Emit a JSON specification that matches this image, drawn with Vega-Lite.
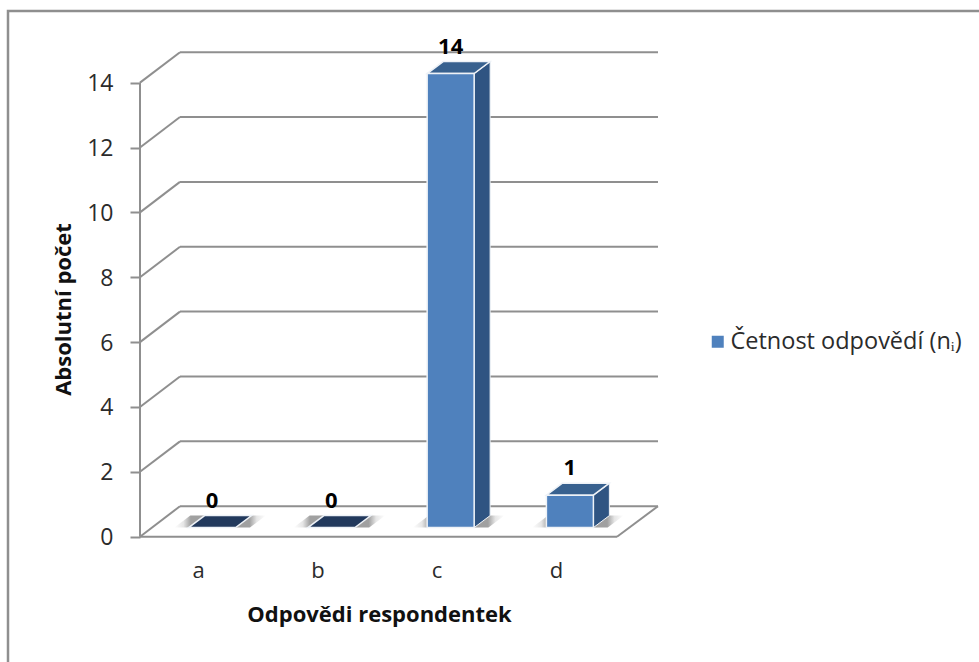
{
  "$schema": "https://vega.github.io/schema/vega-lite/v6.json",
  "width": 973,
  "height": 653,
  "autosize": {"type": "none"},
  "padding": {"left": 8, "top": 11, "right": 0, "bottom": 0},
  "background": "white",
  "view": {"stroke": "#8f8f8f", "strokeWidth": 2.5},
  "config": {"font": "Open Sans"},
  "datasets": {
    "odpovedi": [
      {"odpoved": "a", "poradi": 1, "pocet": 0},
      {"odpoved": "b", "poradi": 2, "pocet": 0},
      {"odpoved": "c", "poradi": 3, "pocet": 14},
      {"odpoved": "d", "poradi": 4, "pocet": 1}
    ],
    "mrizka": [
      {"hodnota": 0}, {"hodnota": 2}, {"hodnota": 4}, {"hodnota": 6},
      {"hodnota": 8}, {"hodnota": 10}, {"hodnota": 12}, {"hodnota": 14}
    ]
  },
  "encoding": {
    "x": {
      "field": "x", "type": "quantitative", "stack": null,
      "scale": {"domain": [-1.1069, 7.0524], "nice": false, "zero": false},
      "axis": {
        "orient": "bottom", "offset": -127,
        "values": [0.5, 1.5, 2.5, 3.5],
        "labelExpr": "['a','b','c','d'][datum.value - 0.5]",
        "domain": false, "grid": false, "ticks": false,
        "labelFont": "Open Sans", "labelFontSize": 22, "labelColor": "#2b2b2b", "labelPadding": 23, "labelOffset": -1.5,
        "title": "Odpovědi respondentek",
        "titleFont": "Open Sans", "titleFontSize": 22, "titleFontWeight": "bold", "titleColor": "#111111",
        "titleX": 371, "titleY": 77, "titleBaseline": "middle", "titleAlign": "center"
      }
    },
    "y": {
      "field": "y", "type": "quantitative", "stack": null,
      "scale": {"domain": [-3.926, 16.21], "nice": false, "zero": false},
      "axis": {
        "orient": "left", "offset": -132,
        "values": [0, 2, 4, 6, 8, 10, 12, 14],
        "domain": false, "grid": false,
        "tickColor": "#8f8f8f", "tickWidth": 2, "tickSize": 10,
        "labelFont": "Open Sans", "labelFontSize": 23, "labelColor": "#2b2b2b", "labelPadding": 17, "labelOffset": 1,
        "title": "Absolutní počet",
        "titleFont": "Open Sans", "titleFontSize": 22, "titleFontWeight": "bold", "titleColor": "#111111",
        "titleX": -77, "titleY": 298, "titleBaseline": "middle", "titleAlign": "center", "titleAngle": 270
      }
    }
  },
  "layer": [
    {
      "description": "Back wall gridlines",
      "data": {"name": "mrizka"},
      "transform": [
        {"calculate": "0.3354", "as": "x"},
        {"calculate": "4.3438", "as": "x2"},
        {"calculate": "datum.hodnota + 0.94", "as": "y"}
      ],
      "mark": {"type": "rule", "color": "#8f8f8f", "strokeWidth": 2},
      "encoding": {"x2": {"field": "x2"}}
    },
    {
      "description": "Side wall gridlines running from the axis to the back wall",
      "data": {"name": "mrizka"},
      "transform": [
        {"calculate": "0", "as": "x"},
        {"calculate": "0.3354", "as": "x2"},
        {"calculate": "datum.hodnota", "as": "y"},
        {"calculate": "datum.hodnota + 0.94", "as": "y2"}
      ],
      "mark": {"type": "rule", "color": "#8f8f8f", "strokeWidth": 2},
      "encoding": {"x2": {"field": "x2"}, "y2": {"field": "y2"}}
    },
    {
      "description": "Vertical axis line",
      "data": {"name": "mrizka"},
      "transform": [
        {"filter": "datum.hodnota === 14"},
        {"calculate": "0", "as": "x"},
        {"calculate": "0", "as": "y"},
        {"calculate": "datum.hodnota", "as": "y2"}
      ],
      "mark": {"type": "rule", "color": "#8f8f8f", "strokeWidth": 2},
      "encoding": {"y2": {"field": "y2"}}
    },
    {
      "description": "Front edge of the floor",
      "data": {"name": "mrizka"},
      "transform": [
        {"filter": "datum.hodnota === 0"},
        {"calculate": "0", "as": "x"},
        {"calculate": "4", "as": "x2"},
        {"calculate": "0", "as": "y"}
      ],
      "mark": {"type": "rule", "color": "#8f8f8f", "strokeWidth": 2},
      "encoding": {"x2": {"field": "x2"}}
    },
    {
      "description": "Right edge of the floor",
      "data": {"name": "mrizka"},
      "transform": [
        {"filter": "datum.hodnota === 0"},
        {"calculate": "4", "as": "x"},
        {"calculate": "4.3438", "as": "x2"},
        {"calculate": "0", "as": "y"},
        {"calculate": "0.94", "as": "y2"}
      ],
      "mark": {"type": "rule", "color": "#8f8f8f", "strokeWidth": 2},
      "encoding": {"x2": {"field": "x2"}, "y2": {"field": "y2"}}
    },
    {
      "description": "Soft shadow on the floor below each bar",
      "data": {"name": "odpovedi"},
      "transform": [
        {"calculate": "[0, 1]", "as": "t"},
        {"flatten": ["t"]},
        {"calculate": "datum.poradi - 0.5 + 0.105 - 0.197 - 0.12 + datum.t * 0.134", "as": "x"},
        {"calculate": "datum.poradi - 0.5 + 0.105 + 0.197 + 0.12 + datum.t * 0.134", "as": "x2"},
        {"calculate": "0.28 + datum.t * 0.37", "as": "y"}
      ],
      "mark": {
        "type": "area", "orient": "horizontal",
        "color": {
          "gradient": "linear", "x1": 0, "x2": 1, "y1": 0, "y2": 0,
          "stops": [
            {"offset": 0, "color": "#ffffff"},
            {"offset": 0.1, "color": "#e6e6e6"},
            {"offset": 0.18, "color": "#a0a0a0"},
            {"offset": 0.82, "color": "#a0a0a0"},
            {"offset": 0.9, "color": "#e6e6e6"},
            {"offset": 1, "color": "#ffffff"}
          ]
        }
      },
      "encoding": {"x2": {"field": "x2"}, "detail": {"field": "odpoved"}}
    },
    {
      "description": "Right side face of the bars",
      "data": {"name": "odpovedi"},
      "transform": [
        {"filter": "datum.pocet > 0"},
        {"calculate": "[0, 1]", "as": "t"},
        {"flatten": ["t"]},
        {"calculate": "datum.poradi - 0.5 + 0.105 + 0.197 + datum.t * 0.134", "as": "x"},
        {"calculate": "0.28 + datum.t * 0.37", "as": "y"},
        {"calculate": "0.28 + datum.pocet + datum.t * 0.37", "as": "y2"}
      ],
      "mark": {"type": "area", "orient": "vertical", "color": "#2f5482", "stroke": "#eef2f7", "strokeWidth": 1},
      "encoding": {"y2": {"field": "y2"}, "detail": {"field": "odpoved"}}
    },
    {
      "description": "Top face of the bars; a bar of zero shows only this face, in a darker tone",
      "data": {"name": "odpovedi"},
      "transform": [
        {"calculate": "[0, 1]", "as": "t"},
        {"flatten": ["t"]},
        {"calculate": "datum.poradi - 0.5 + 0.105 - 0.197 + datum.t * 0.134", "as": "x"},
        {"calculate": "datum.poradi - 0.5 + 0.105 + 0.197 + datum.t * 0.134", "as": "x2"},
        {"calculate": "0.28 + datum.pocet + datum.t * 0.37", "as": "y"}
      ],
      "mark": {"type": "area", "orient": "horizontal", "stroke": "#eef2f7", "strokeWidth": 1.5},
      "encoding": {
        "x2": {"field": "x2"},
        "detail": {"field": "odpoved"},
        "fill": {"condition": {"test": "datum.pocet === 0", "value": "#22395c"}, "value": "#38618f"}
      }
    },
    {
      "description": "Front face of the bars, which also carries the legend",
      "data": {"name": "odpovedi"},
      "transform": [
        {"filter": "datum.pocet > 0"},
        {"calculate": "datum.poradi - 0.5 + 0.105 - 0.197", "as": "x"},
        {"calculate": "datum.poradi - 0.5 + 0.105 + 0.197", "as": "x2"},
        {"calculate": "0.28", "as": "y"},
        {"calculate": "0.28 + datum.pocet", "as": "y2"},
        {"calculate": "'Četnost odpovědí (nᵢ)'", "as": "rada"}
      ],
      "mark": {"type": "rect", "stroke": "#eef2f7", "strokeWidth": 1.5},
      "encoding": {
        "x2": {"field": "x2"},
        "y2": {"field": "y2"},
        "color": {
          "field": "rada", "type": "nominal",
          "scale": {"range": ["#4f81bd"]},
          "legend": {
            "title": null, "orient": "none", "legendX": 698, "legendY": 319,
            "symbolType": "square", "symbolSize": 144, "symbolStrokeWidth": 0,
            "labelFont": "Open Sans", "labelFontSize": 23.5, "labelOffset": 1, "labelColor": "#2b2b2b", "labelLimit": 300
          }
        }
      }
    },
    {
      "description": "Value labels above the bars",
      "data": {"name": "odpovedi"},
      "transform": [
        {"calculate": "datum.poradi - 0.5 + 0.105", "as": "x"},
        {"calculate": "0.28 + datum.pocet + 0.37", "as": "y"}
      ],
      "mark": {"type": "text", "font": "Open Sans", "fontSize": 22, "fontWeight": "bold", "color": "#000000", "baseline": "middle", "dy": -15},
      "encoding": {"text": {"field": "pocet", "type": "quantitative"}}
    }
  ]
}
